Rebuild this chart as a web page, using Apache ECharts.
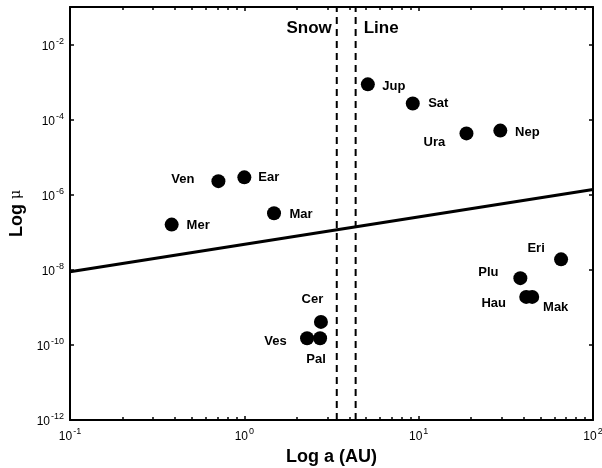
<!DOCTYPE html>
<html>
<head>
<meta charset="utf-8">
<script src="https://cdn.jsdelivr.net/npm/echarts@6/dist/echarts.min.js"></script>
<style>html,body{margin:0;padding:0;background:#fff}#c{width:602px;height:468px}</style>
</head>
<body>
<div id="c"></div>
<script>
// ---- data ----
const bodyNames = ['Mer','Ven','Ear','Mar','Ves','Cer','Pal','Jup','Sat','Ura','Nep','Plu','Hau','Mak','Eri'];
const semiMajorAxis = [0.383, 0.71, 1.0, 1.48, 2.29, 2.75, 2.72, 5.11, 9.25, 18.8, 29.4, 38.3, 41.4, 44.8, 65.6];
const massRatio = [1.6e-7, 2.3e-6, 2.9e-6, 3.2e-7, 1.5e-10, 4.1e-10, 1.5e-10, 8.7e-4, 2.7e-4, 4.3e-5, 5.1e-5, 6.0e-9, 1.9e-9, 1.9e-9, 1.9e-8];
const boundaryA = [0.1, 100];
const boundaryMu = [8.9e-9, 1.38e-6];
const snowLineA = [3.39, 4.35];
const snowLabels = ['Snow', 'Line'];
const snowLabelMu = 0.027;
const xRange = [0.1, 100];
const yRange = [1e-12, 1e-1];

// label placement (pixel offsets of label centre from the dot)
const labelOffset = {
  Jup:[26,2], Sat:[25.5,0], Ura:[-32,9], Nep:[27,2], Ven:[-35.5,-2], Ear:[24.5,0],
  Mer:[26.5,1], Mar:[27,1], Cer:[-8.5,-22], Ves:[-31.5,3], Pal:[-4,21], Eri:[-25,-11],
  Plu:[-32,-6], Hau:[-32.5,7], Mak:[23.5,11]
};

const FONT = '"Liberation Sans", Arial, Helvetica, sans-serif';
const chart = echarts.init(document.getElementById('c'), null, {renderer:'canvas'});

const expLabel = (v) => {
  const e = Math.round(Math.log10(v));
  return '{b|10}{s|' + e + '}';
};
const richTick = {
  b: {fontSize: 12, fontFamily: FONT, color: '#000', verticalAlign: 'bottom', lineHeight: 16},
  s: {fontSize: 9, fontFamily: FONT, color: '#000', verticalAlign: 'top', lineHeight: 16, padding: [0,0,0,1]}
};

const frameAxis = {
  axisLine: {show: true, onZero: false, lineStyle: {color: '#000', width: 2}},
  splitLine: {show: false},
  axisTick: {show: true, inside: true, length: 4, lineStyle: {color: '#000', width: 1.5}}
};

const points = bodyNames.map((n, i) => ({
  value: [semiMajorAxis[i], massRatio[i]],
  name: n,
  label: {show: true, position: 'inside', offset: labelOffset[n], formatter: n}
}));

const option = {
  animation: false,
  backgroundColor: '#fff',
  grid: {left: 70, right: 9, top: 7, bottom: 48, containLabel: false, outerBoundsMode: 'none'},
  xAxis: [
    Object.assign({}, frameAxis, {
      type: 'log', logBase: 10, min: xRange[0], max: xRange[1], position: 'bottom',
      name: 'Log a (AU)', nameLocation: 'middle', nameGap: 27,
      nameTextStyle: {fontSize: 18, fontWeight: 'bold', fontFamily: FONT, color: '#000'},
      axisLabel: {formatter: expLabel, rich: richTick, margin: 7},
      minorTick: {show: true, splitNumber: 9, length: 3, lineStyle: {color: '#000', width: 1.5}}
    }),
    Object.assign({}, frameAxis, {
      type: 'log', logBase: 10, min: xRange[0], max: xRange[1], position: 'top',
      axisLabel: {show: false},
      minorTick: {show: true, splitNumber: 9, length: 3, lineStyle: {color: '#000', width: 1.5}}
    })
  ],
  yAxis: [
    Object.assign({}, frameAxis, {
      type: 'log', logBase: 10, min: yRange[0], max: yRange[1], interval: 2, position: 'left',
      name: '{b|Log }{m|μ}', nameLocation: 'middle', nameGap: 43,
      nameTextStyle: {rich: {
        b: {fontSize: 18, fontWeight: 'bold', fontFamily: FONT, color: '#000'},
        m: {fontSize: 14, fontFamily: '"DejaVu Serif", serif', color: '#000'}
      }},
      axisLabel: {
        formatter: (v) => { const e = Math.round(Math.log10(v)); return (e % 2 === 0) ? expLabel(v) : ''; },
        rich: richTick, margin: 6, showMaxLabel: false
      }
    }),
    Object.assign({}, frameAxis, {
      type: 'log', logBase: 10, min: yRange[0], max: yRange[1], interval: 2, position: 'right',
      axisLabel: {show: false}
    })
  ],
  series: [
    {
      type: 'line', xAxisIndex: 0, yAxisIndex: 0, showSymbol: false, silent: true,
      data: boundaryA.map((a, i) => [a, boundaryMu[i]]),
      lineStyle: {color: '#000', width: 3.2}
    },
    ...snowLineA.map((a) => ({
      type: 'line', xAxisIndex: 0, yAxisIndex: 0, showSymbol: false, silent: true,
      data: [[a, yRange[0]], [a, yRange[1]]],
      lineStyle: {color: '#000', width: 2, type: [7, 5]}
    })),
    {
      type: 'scatter', xAxisIndex: 0, yAxisIndex: 0, symbolSize: 0, silent: true,
      itemStyle: {opacity: 1},
      data: snowLineA.map((a, i) => ({
        value: [a, snowLabelMu], name: snowLabels[i],
        label: {show: true, formatter: snowLabels[i], position: i === 0 ? 'left' : 'right', distance: i === 0 ? 5 : 8,
          fontSize: 17, fontWeight: 'bold', fontFamily: FONT, color: '#000', opacity: 1}
      }))
    },
    {
      type: 'scatter', xAxisIndex: 0, yAxisIndex: 0, symbol: 'circle', symbolSize: 14,
      itemStyle: {color: '#000', opacity: 1},
      label: {fontSize: 13, fontWeight: 'bold', fontFamily: FONT, color: '#000', opacity: 1},
      data: points
    }
  ]
};
chart.setOption(option);
</script>
</body>
</html>
